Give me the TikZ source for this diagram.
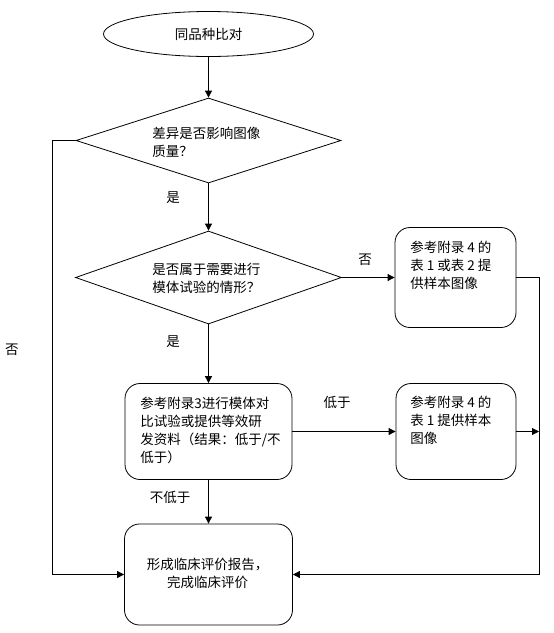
\documentclass[tikz,border=0pt]{standalone}
\usepackage{fontspec}
\setmainfont{Noto Sans CJK SC}
\usetikzlibrary{shapes.geometric,arrows.meta}
\begin{document}
\begin{tikzpicture}[x=1pt,y=-1pt,line width=0.8pt,
  txt/.style={inner sep=0pt,font=\fontsize{13.5pt}{18pt}\selectfont,align=left},
  rbox/.style={draw,rounded corners=15pt,inner sep=0pt},
  arr/.style={-{Triangle[length=7pt,width=7pt]}}]
\useasboundingbox (0,0) rectangle (554,633);
% shapes
\node[draw,ellipse,minimum width=210pt,minimum height=45pt,inner sep=0pt,txt,align=center] (start) at (208.5,34) {同品种比对};
\node[draw,diamond,minimum width=265pt,minimum height=85pt,inner sep=0pt] (d1) at (208.5,140.5) {};
\node[txt,anchor=west] (t1) at (152,142.5) {差异是否影响图像\\质量？};
\node[draw,diamond,minimum width=266pt,minimum height=93pt,inner sep=0pt] (d2) at (208.5,277.5) {};
\node[txt,anchor=west] (t2) at (152,278.5) {是否属于需要进行\\模体试验的情形？};
\node[rbox,minimum width=121pt,minimum height=100pt] (b1) at (455.5,277.5) {};
\node[txt,anchor=west] (tb1) at (410,265.5) {参考附录 4 的\\表 1 或表 2 提\\供样本图像};
\node[rbox,minimum width=167pt,minimum height=96pt] (m) at (208.5,431.5) {};
\node[txt,anchor=west] (tm) at (140,430) {参考附录3进行模体对\\比试验或提供等效研\\发资料（结果：低于/不\\低于）};
\node[rbox,minimum width=120pt,minimum height=96pt] (b2) at (456,431.5) {};
\node[txt,anchor=west] (tb2) at (410,420) {参考附录 4 的\\表 1 提供样本\\图像};
\node[rbox,minimum width=168pt,minimum height=101pt] (e) at (208.5,574.5) {};
\node[txt,align=center] (te) at (207.5,573) {形成临床评价报告，\\完成临床评价};
% connectors
\draw[arr] (start.south) -- (d1.north);
\draw[arr] (d1.south) -- (d2.north);
\draw[arr] (d2.east) -- (b1.west);
\draw[arr] (d2.south) -- (m.north);
\draw[arr] (m.east) -- (b2.west);
\draw[arr] (m.south) -- (e.north);
\coordinate (L) at (52,140.5);
\draw[arr] (d1.west) -- (L) |- (e.west);
\coordinate (R) at (539,277.5);
\draw[arr] (b1.east) -- (R) |- (e.east);
\draw[arr] (b2.east) -- (b2.east -| R);
% labels
\node[txt] (l1) at (173,198) {是};
\node[txt] (l2) at (173,342) {是};
\node[txt] (l3) at (365,260) {否};
\node[txt] (l4) at (337,402) {低于};
\node[txt] (l5) at (170,497) {不低于};
\node[txt] (l6) at (12,350) {否};
\end{tikzpicture}
\end{document}
